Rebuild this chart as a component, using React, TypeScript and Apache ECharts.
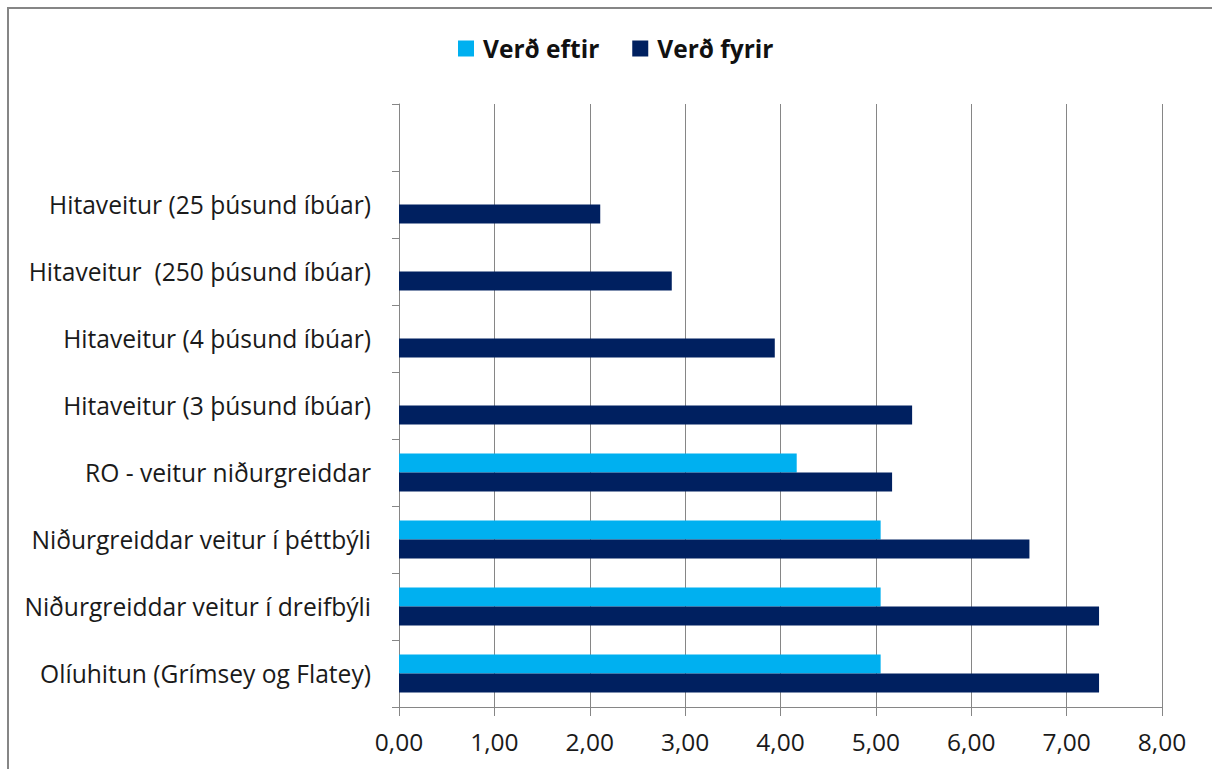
import React, { useEffect, useRef } from "react";
import * as echarts from "echarts";

const categories = [
  "Olíuhitun (Grímsey og Flatey)",
  "Niðurgreiddar veitur í dreifbýli",
  "Niðurgreiddar veitur í þéttbýli",
  "RO - veitur niðurgreiddar",
  "Hitaveitur (3 þúsund íbúar)",
  "Hitaveitur (4 þúsund íbúar)",
  "Hitaveitur  (250 þúsund íbúar)",
  "Hitaveitur (25 þúsund íbúar)",
  "",
];
const verdEftir = [5.05, 5.05, 5.05, 4.17, null, null, null, null, null];
const verdFyrir = [7.34, 7.34, 6.61, 5.17, 5.38, 3.94, 2.86, 2.11, null];
const xTicks = { min: 0, max: 8, interval: 1 };
const seriesNames = ["Verð eftir", "Verð fyrir"];
const colors = ["#00B0F0", "#002060"];

const FONT = "'Open Sans', 'Noto Sans', sans-serif";

export default function App() {
  const ref = useRef<HTMLDivElement>(null);
  useEffect(() => {
    if (!ref.current) return;
    const chart = echarts.init(ref.current, null, { renderer: "svg" });
    chart.setOption({
      animation: false,
      backgroundColor: "#ffffff",
      textStyle: { fontFamily: FONT },
      graphic: [
        {
          type: "rect",
          shape: { x: 8, y: 8, width: 1400, height: 1000 },
          style: { fill: "none", stroke: "#868686", lineWidth: 2 },
          silent: true,
        },
      ],
      legend: {
        data: seriesNames,
        left: 458,
        top: 36,
        padding: 0,
        itemWidth: 16,
        itemHeight: 16,
        itemGap: 33,
        icon: "rect",
        textStyle: {
          fontFamily: FONT,
          fontSize: 24.5,
          fontWeight: "bold",
          color: "#111",
          padding: [0, 0, 0, 4],
        },
      },
      grid: { left: 399, right: 50, top: 104, height: 603, containLabel: false },
      xAxis: {
        type: "value",
        min: xTicks.min,
        max: xTicks.max,
        interval: xTicks.interval,
        axisLine: { show: true, lineStyle: { color: "#868686", width: 1 } },
        axisTick: { show: true, length: 9, lineStyle: { color: "#868686" } },
        splitLine: { show: true, lineStyle: { color: "#868686", width: 1 } },
        axisLabel: {
          margin: 22,
          fontFamily: FONT,
          fontSize: 24.5,
          color: "#1a1a1a",
          formatter: (v: number) => v.toFixed(2).replace(".", ","),
        },
      },
      yAxis: {
        type: "category",
        data: categories,
        axisLine: { show: true, lineStyle: { color: "#868686", width: 1 } },
        axisTick: { show: true, length: 7, lineStyle: { color: "#868686" } },
        splitLine: { show: false },
        axisLabel: {
          margin: 28,
          fontFamily: FONT,
          fontSize: 24.6,
          color: "#1a1a1a",
          interval: 0,
        },
      },
      series: [
        {
          name: seriesNames[0],
          type: "bar",
          data: verdEftir,
          itemStyle: { color: colors[0] },
          barGap: "0%",
          barCategoryGap: "43%",
        },
        {
          name: seriesNames[1],
          type: "bar",
          data: verdFyrir,
          itemStyle: { color: colors[1] },
          barGap: "0%",
          barCategoryGap: "43%",
        },
      ],
    });
    return () => chart.dispose();
  }, []);
  return (
    <div
      ref={ref}
      style={{ position: "fixed", left: 0, top: 0, width: 1212, height: 769 }}
    />
  );
}
